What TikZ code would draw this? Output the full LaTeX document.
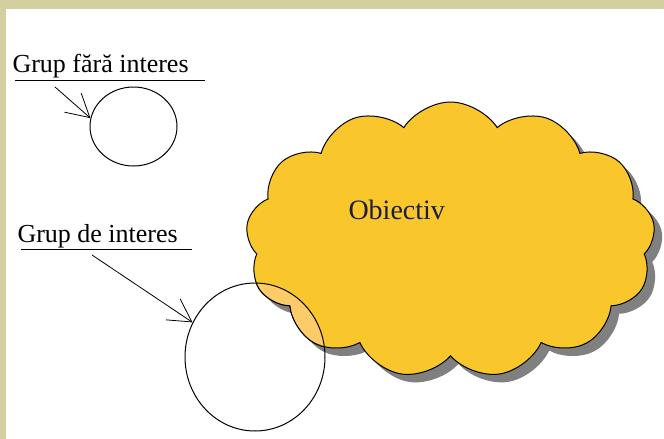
\documentclass[tikz,border=0pt]{standalone}
\usepackage{fontspec}
\setmainfont{Liberation Serif}
\usetikzlibrary{shapes.geometric,shapes.symbols,arrows.meta}

\definecolor{frameKhaki}{RGB}{211,207,158}
\definecolor{cloudYellow}{RGB}{249,198,44}
\definecolor{cloudLight}{RGB}{253,204,104}
\definecolor{cloudShadow}{RGB}{128,128,128}
\definecolor{textNavy}{RGB}{24,30,60}

\tikzset{every picture/.style={line width=0.75pt}}
\tikzset{
  grouplabel/.style={anchor=base west,inner sep=0pt,font=\fontsize{19.5}{22}\selectfont},
  groupring/.style={ellipse,draw,inner sep=0pt},
  pointer/.style={-{Straight Barb[length=17pt,width=19pt]},line width=0.6pt},
  cloudshape/.style={cloud,cloud puffs=13,cloud puff arc=115,aspect=1.48,inner sep=0pt,
    minimum width=307pt,minimum height=207pt}
}

\begin{document}
\begin{tikzpicture}[x=0.75pt,y=0.75pt,yscale=-1]
	\useasboundingbox (0,0) rectangle (664,439);
	%Shape: Frame
	\fill [frameKhaki] (0,0) rectangle (664,439);
	\fill [white] (6,9) rectangle (664,439);

	%Shape: Cloud shadow
	\node [cloudshape,fill=cloudShadow] (shadow) at (458.5,248) {};
	%Shape: Cloud
	\node [cloudshape,fill=cloudYellow,draw=black] (goal) at (450.5,240) {};
	%Shape: Cloud part inside the big ring
	\begin{scope}
		\clip (255,357) ellipse (70 and 74);
		\node [cloudshape,fill=cloudLight,draw=black] at (450.5,240) {};
	\end{scope}

	%Shape: Ellipse
	\node [groupring,minimum width=65.25pt,minimum height=59.25pt] (small) at (133.5,126.5) {};
	%Shape: Ellipse
	\node [groupring,minimum width=105pt,minimum height=111pt] (big) at (255,357) {};

	% Text Node
	\node [grouplabel] (nolabel) at (12,72) {Grup fără interes};
	% Text Node
	\node [grouplabel] (yeslabel) at (17,242) {Grup de interes};
	% Text Node
	\node [anchor=base west,inner sep=0pt,text=textNavy,font=\fontsize{21}{24}\selectfont] (goaltext) at (348,219) {Obiectiv};

	%Straight Lines
	\coordinate (noline) at (15,80);
	\coordinate (noend) at (205,80);
	\draw (noline) -- (noend);
	\coordinate (yesline) at (21,249);
	\coordinate (yesend) at (192,249);
	\draw (yesline) -- (yesend);

	%Straight Lines
	\coordinate (nostart) at (55,87);
	\draw [pointer] (nostart) -- (small.169);
	\coordinate (yesstart) at (92,255);
	\draw [pointer] (yesstart) -- (big.151);
\end{tikzpicture}
\end{document}
